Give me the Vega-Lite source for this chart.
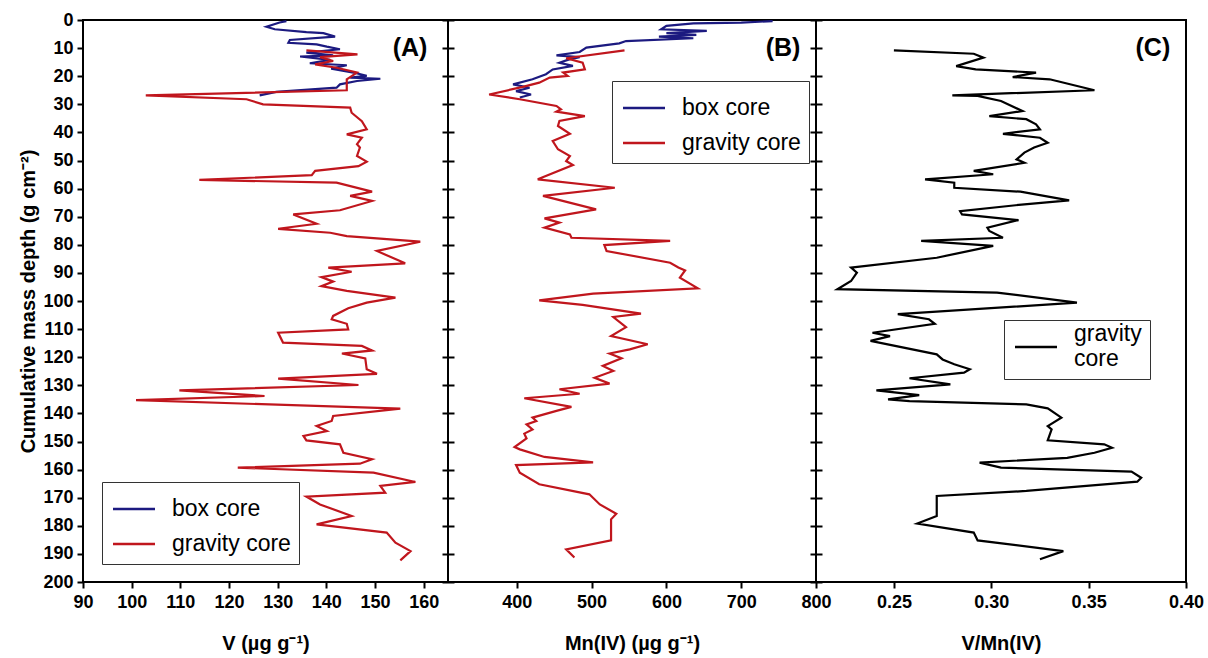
{
"$schema": "https://vega.github.io/schema/vega-lite/v6.json",
"padding": {"left": 17, "top": 10, "right": 5, "bottom": 5},
"spacing": 0,
"bounds": "flush",
"background": "white",
"config": {
 "font": "Liberation Sans",
 "view": {"stroke": "black", "strokeWidth": 2},
 "axis": {"grid": false, "domain": false, "tickColor": "black", "tickWidth": 2, "tickSize": 6, "labelColor": "black", "labelFont": "Liberation Sans", "labelFontWeight": "bold", "labelFontSize": 18, "titleFont": "Liberation Sans", "titleFontWeight": "bold", "titleFontSize": 20, "titleColor": "black", "labelFlush": false, "labelOverlap": false},
 "legend": {"labelFont": "Liberation Sans", "labelFontSize": 23, "labelColor": "black", "strokeColor": "#333333", "fillColor": "white", "padding": 8, "symbolStrokeWidth": 2.5, "symbolType": "M-1.2,0H1.2", "symbolSize": 1225, "rowPadding": 4, "labelOffset": 19, "symbolOffset": 5, "labelLimit": 300}
},
"datasets": {
 "A": [
  {"core":"box core","d":0.4,"v":131.8},{"core":"box core","d":0.9,"v":130.4},{"core":"box core","d":2.4,"v":127.7},{"core":"box core","d":3.3,"v":129.4},{"core":"box core","d":4.3,"v":135.9},{"core":"box core","d":4.7,"v":139.4},{"core":"box core","d":5.9,"v":141.8},{"core":"box core","d":7.1,"v":132.5},{"core":"box core","d":8.1,"v":132.2},{"core":"box core","d":8.7,"v":138.0},{"core":"box core","d":9.5,"v":140.1},{"core":"box core","d":10.4,"v":142.8},{"core":"box core","d":11.6,"v":135.9},{"core":"box core","d":12.6,"v":141.4},{"core":"box core","d":13.0,"v":134.6},{"core":"box core","d":14.2,"v":140.8},{"core":"box core","d":15.4,"v":136.6},{"core":"box core","d":16.1,"v":144.2},{"core":"box core","d":17.3,"v":141.0},{"core":"box core","d":18.7,"v":145.6},{"core":"box core","d":19.9,"v":148.3},{"core":"box core","d":20.5,"v":144.9},{"core":"box core","d":20.9,"v":151.1},{"core":"box core","d":21.7,"v":146.3},{"core":"box core","d":22.9,"v":142.8},{"core":"box core","d":24.1,"v":142.1},{"core":"box core","d":25.6,"v":129.7},{"core":"box core","d":26.8,"v":126.3},
  {"core":"gravity core","d":10.8,"v":135.9},{"core":"gravity core","d":12.2,"v":146.4},{"core":"gravity core","d":13.2,"v":138.7},{"core":"gravity core","d":14.6,"v":141.4},{"core":"gravity core","d":15.8,"v":137.7},{"core":"gravity core","d":17.0,"v":142.1},{"core":"gravity core","d":18.7,"v":146.3},{"core":"gravity core","d":21.1,"v":144.2},{"core":"gravity core","d":25.0,"v":144.2},{"core":"gravity core","d":26.8,"v":102.9},{"core":"gravity core","d":28.2,"v":123.6},{"core":"gravity core","d":30.0,"v":127.0},{"core":"gravity core","d":31.2,"v":144.9},{"core":"gravity core","d":33.0,"v":145.2},{"core":"gravity core","d":36.0,"v":147.3},{"core":"gravity core","d":38.9,"v":148.3},{"core":"gravity core","d":40.7,"v":144.2},{"core":"gravity core","d":41.9,"v":147.3},{"core":"gravity core","d":44.2,"v":146.3},{"core":"gravity core","d":45.4,"v":146.9},{"core":"gravity core","d":48.4,"v":146.3},{"core":"gravity core","d":50.4,"v":148.3},{"core":"gravity core","d":52.0,"v":146.6},{"core":"gravity core","d":53.7,"v":137.7},{"core":"gravity core","d":55.2,"v":137.0},{"core":"gravity core","d":56.9,"v":113.9},{"core":"gravity core","d":57.9,"v":142.1},{"core":"gravity core","d":61.1,"v":149.4},{"core":"gravity core","d":62.6,"v":144.9},{"core":"gravity core","d":64.4,"v":149.4},{"core":"gravity core","d":67.7,"v":142.8},{"core":"gravity core","d":69.2,"v":133.2},{"core":"gravity core","d":72.5,"v":138.0},{"core":"gravity core","d":74.3,"v":130.1},{"core":"gravity core","d":75.7,"v":140.8},{"core":"gravity core","d":76.9,"v":144.2},{"core":"gravity core","d":78.9,"v":159.3},{"core":"gravity core","d":82.2,"v":150.4},{"core":"gravity core","d":86.6,"v":156.2},{"core":"gravity core","d":88.1,"v":140.4},{"core":"gravity core","d":89.6,"v":145.2},{"core":"gravity core","d":91.5,"v":139.0},{"core":"gravity core","d":93.1,"v":141.4},{"core":"gravity core","d":94.7,"v":139.0},{"core":"gravity core","d":96.4,"v":144.2},{"core":"gravity core","d":98.8,"v":154.2},{"core":"gravity core","d":100.6,"v":148.3},{"core":"gravity core","d":102.6,"v":144.5},{"core":"gravity core","d":105.3,"v":141.4},{"core":"gravity core","d":106.5,"v":141.1},{"core":"gravity core","d":108.1,"v":144.2},{"core":"gravity core","d":110.1,"v":144.5},{"core":"gravity core","d":111.3,"v":130.1},{"core":"gravity core","d":114.8,"v":131.1},{"core":"gravity core","d":116.0,"v":147.3},{"core":"gravity core","d":117.6,"v":149.4},{"core":"gravity core","d":118.7,"v":143.2},{"core":"gravity core","d":120.4,"v":148.0},{"core":"gravity core","d":124.3,"v":148.3},{"core":"gravity core","d":125.9,"v":150.4},{"core":"gravity core","d":127.6,"v":130.1},{"core":"gravity core","d":129.9,"v":146.6},{"core":"gravity core","d":131.8,"v":109.8},{"core":"gravity core","d":133.8,"v":127.3},{"core":"gravity core","d":135.3,"v":100.9},{"core":"gravity core","d":138.3,"v":155.2},{"core":"gravity core","d":140.9,"v":141.4},{"core":"gravity core","d":142.7,"v":141.1},{"core":"gravity core","d":144.5,"v":138.0},{"core":"gravity core","d":146.3,"v":140.1},{"core":"gravity core","d":148.0,"v":135.3},{"core":"gravity core","d":149.6,"v":135.9},{"core":"gravity core","d":151.0,"v":142.8},{"core":"gravity core","d":154.0,"v":143.5},{"core":"gravity core","d":156.3,"v":149.4},{"core":"gravity core","d":157.9,"v":146.9},{"core":"gravity core","d":159.3,"v":121.8},{"core":"gravity core","d":161.1,"v":149.7},{"core":"gravity core","d":164.4,"v":158.3},{"core":"gravity core","d":165.8,"v":151.1},{"core":"gravity core","d":168.2,"v":152.1},{"core":"gravity core","d":169.6,"v":135.9},{"core":"gravity core","d":172.4,"v":138.7},{"core":"gravity core","d":176.5,"v":145.2},{"core":"gravity core","d":179.5,"v":138.0},{"core":"gravity core","d":182.4,"v":152.4},{"core":"gravity core","d":186.0,"v":154.2},{"core":"gravity core","d":189.0,"v":157.3},{"core":"gravity core","d":192.3,"v":155.2}
 ],
 "B": [
  {"core":"box core","d":0.4,"v":742},{"core":"box core","d":0.9,"v":700},{"core":"box core","d":1.2,"v":636},{"core":"box core","d":2.1,"v":600},{"core":"box core","d":3.3,"v":593},{"core":"box core","d":3.9,"v":654},{"core":"box core","d":4.7,"v":600},{"core":"box core","d":5.3,"v":640},{"core":"box core","d":5.9,"v":590},{"core":"box core","d":6.5,"v":636},{"core":"box core","d":7.5,"v":546},{"core":"box core","d":8.3,"v":537},{"core":"box core","d":9.8,"v":493},{"core":"box core","d":11.4,"v":484},{"core":"box core","d":12.6,"v":453},{"core":"box core","d":13.2,"v":484},{"core":"box core","d":14.0,"v":470},{"core":"box core","d":15.2,"v":457},{"core":"box core","d":16.3,"v":475},{"core":"box core","d":17.6,"v":448},{"core":"box core","d":19.3,"v":439},{"core":"box core","d":21.1,"v":421},{"core":"box core","d":22.9,"v":395},{"core":"box core","d":24.1,"v":417},{"core":"box core","d":25.3,"v":399},{"core":"box core","d":26.5,"v":419},{"core":"box core","d":27.6,"v":404},
  {"core":"gravity core","d":10.8,"v":544},{"core":"gravity core","d":13.6,"v":466},{"core":"gravity core","d":15.2,"v":488},{"core":"gravity core","d":17.6,"v":491},{"core":"gravity core","d":18.7,"v":462},{"core":"gravity core","d":19.9,"v":468},{"core":"gravity core","d":20.5,"v":444},{"core":"gravity core","d":22.3,"v":430},{"core":"gravity core","d":23.8,"v":408},{"core":"gravity core","d":26.5,"v":363},{"core":"gravity core","d":28.2,"v":404},{"core":"gravity core","d":30.6,"v":453},{"core":"gravity core","d":31.8,"v":459},{"core":"gravity core","d":32.6,"v":453},{"core":"gravity core","d":34.2,"v":491},{"core":"gravity core","d":35.9,"v":457},{"core":"gravity core","d":37.7,"v":455},{"core":"gravity core","d":40.5,"v":471},{"core":"gravity core","d":43.1,"v":448},{"core":"gravity core","d":46.0,"v":455},{"core":"gravity core","d":48.4,"v":471},{"core":"gravity core","d":50.2,"v":466},{"core":"gravity core","d":51.6,"v":475},{"core":"gravity core","d":56.7,"v":428},{"core":"gravity core","d":59.7,"v":531},{"core":"gravity core","d":62.6,"v":435},{"core":"gravity core","d":67.4,"v":506},{"core":"gravity core","d":70.6,"v":437},{"core":"gravity core","d":72.1,"v":457},{"core":"gravity core","d":73.9,"v":437},{"core":"gravity core","d":76.3,"v":471},{"core":"gravity core","d":77.5,"v":473},{"core":"gravity core","d":78.6,"v":605},{"core":"gravity core","d":80.1,"v":517},{"core":"gravity core","d":82.2,"v":520},{"core":"gravity core","d":86.4,"v":605},{"core":"gravity core","d":88.1,"v":616},{"core":"gravity core","d":89.1,"v":625},{"core":"gravity core","d":91.7,"v":618},{"core":"gravity core","d":95.5,"v":642},{"core":"gravity core","d":97.4,"v":502},{"core":"gravity core","d":99.8,"v":430},{"core":"gravity core","d":101.4,"v":488},{"core":"gravity core","d":104.5,"v":566},{"core":"gravity core","d":105.7,"v":529},{"core":"gravity core","d":109.3,"v":546},{"core":"gravity core","d":112.5,"v":526},{"core":"gravity core","d":115.4,"v":575},{"core":"gravity core","d":117.2,"v":551},{"core":"gravity core","d":118.7,"v":524},{"core":"gravity core","d":120.4,"v":540},{"core":"gravity core","d":123.1,"v":515},{"core":"gravity core","d":124.9,"v":529},{"core":"gravity core","d":127.3,"v":504},{"core":"gravity core","d":129.4,"v":524},{"core":"gravity core","d":131.4,"v":457},{"core":"gravity core","d":133.0,"v":484},{"core":"gravity core","d":134.6,"v":410},{"core":"gravity core","d":137.7,"v":473},{"core":"gravity core","d":139.1,"v":453},{"core":"gravity core","d":141.5,"v":421},{"core":"gravity core","d":142.7,"v":426},{"core":"gravity core","d":143.9,"v":413},{"core":"gravity core","d":145.7,"v":421},{"core":"gravity core","d":147.2,"v":410},{"core":"gravity core","d":148.9,"v":413},{"core":"gravity core","d":152.0,"v":397},{"core":"gravity core","d":152.8,"v":404},{"core":"gravity core","d":155.5,"v":437},{"core":"gravity core","d":157.4,"v":502},{"core":"gravity core","d":158.4,"v":399},{"core":"gravity core","d":161.1,"v":404},{"core":"gravity core","d":165.2,"v":430},{"core":"gravity core","d":168.8,"v":497},{"core":"gravity core","d":172.4,"v":511},{"core":"gravity core","d":175.7,"v":533},{"core":"gravity core","d":177.7,"v":526},{"core":"gravity core","d":185.2,"v":526},{"core":"gravity core","d":188.4,"v":466},{"core":"gravity core","d":191.3,"v":477}
 ],
 "C": [
  {"core":"gravity core","d":10.8,"v":0.250},{"core":"gravity core","d":12.0,"v":0.291},{"core":"gravity core","d":13.4,"v":0.296},{"core":"gravity core","d":16.4,"v":0.282},{"core":"gravity core","d":17.6,"v":0.292},{"core":"gravity core","d":18.7,"v":0.323},{"core":"gravity core","d":20.3,"v":0.311},{"core":"gravity core","d":21.1,"v":0.330},{"core":"gravity core","d":25.0,"v":0.353},{"core":"gravity core","d":26.8,"v":0.280},{"core":"gravity core","d":27.0,"v":0.293},{"core":"gravity core","d":28.8,"v":0.305},{"core":"gravity core","d":32.4,"v":0.316},{"core":"gravity core","d":34.2,"v":0.299},{"core":"gravity core","d":35.3,"v":0.318},{"core":"gravity core","d":37.1,"v":0.323},{"core":"gravity core","d":38.9,"v":0.325},{"core":"gravity core","d":40.5,"v":0.306},{"core":"gravity core","d":41.9,"v":0.325},{"core":"gravity core","d":43.7,"v":0.329},{"core":"gravity core","d":45.4,"v":0.322},{"core":"gravity core","d":47.2,"v":0.317},{"core":"gravity core","d":49.6,"v":0.313},{"core":"gravity core","d":50.8,"v":0.317},{"core":"gravity core","d":53.7,"v":0.291},{"core":"gravity core","d":54.9,"v":0.301},{"core":"gravity core","d":56.7,"v":0.266},{"core":"gravity core","d":57.9,"v":0.281},{"core":"gravity core","d":59.7,"v":0.281},{"core":"gravity core","d":61.1,"v":0.315},{"core":"gravity core","d":64.2,"v":0.340},{"core":"gravity core","d":65.6,"v":0.317},{"core":"gravity core","d":68.0,"v":0.284},{"core":"gravity core","d":69.2,"v":0.285},{"core":"gravity core","d":71.2,"v":0.314},{"core":"gravity core","d":73.9,"v":0.298},{"core":"gravity core","d":75.1,"v":0.299},{"core":"gravity core","d":77.5,"v":0.306},{"core":"gravity core","d":78.6,"v":0.264},{"core":"gravity core","d":80.4,"v":0.301},{"core":"gravity core","d":84.6,"v":0.272},{"core":"gravity core","d":88.1,"v":0.228},{"core":"gravity core","d":89.9,"v":0.231},{"core":"gravity core","d":92.9,"v":0.228},{"core":"gravity core","d":95.8,"v":0.221},{"core":"gravity core","d":97.0,"v":0.303},{"core":"gravity core","d":100.6,"v":0.344},{"core":"gravity core","d":104.7,"v":0.252},{"core":"gravity core","d":106.5,"v":0.268},{"core":"gravity core","d":108.1,"v":0.271},{"core":"gravity core","d":111.3,"v":0.239},{"core":"gravity core","d":112.5,"v":0.248},{"core":"gravity core","d":114.2,"v":0.238},{"core":"gravity core","d":119.0,"v":0.272},{"core":"gravity core","d":120.8,"v":0.275},{"core":"gravity core","d":122.5,"v":0.281},{"core":"gravity core","d":124.3,"v":0.289},{"core":"gravity core","d":125.5,"v":0.286},{"core":"gravity core","d":127.5,"v":0.258},{"core":"gravity core","d":129.7,"v":0.279},{"core":"gravity core","d":131.8,"v":0.241},{"core":"gravity core","d":133.5,"v":0.263},{"core":"gravity core","d":135.0,"v":0.247},{"core":"gravity core","d":135.6,"v":0.258},{"core":"gravity core","d":136.8,"v":0.318},{"core":"gravity core","d":138.2,"v":0.329},{"core":"gravity core","d":141.5,"v":0.336},{"core":"gravity core","d":144.5,"v":0.329},{"core":"gravity core","d":145.7,"v":0.331},{"core":"gravity core","d":149.6,"v":0.329},{"core":"gravity core","d":151.0,"v":0.358},{"core":"gravity core","d":152.2,"v":0.362},{"core":"gravity core","d":154.0,"v":0.353},{"core":"gravity core","d":155.8,"v":0.339},{"core":"gravity core","d":157.5,"v":0.294},{"core":"gravity core","d":159.3,"v":0.305},{"core":"gravity core","d":160.7,"v":0.372},{"core":"gravity core","d":162.9,"v":0.377},{"core":"gravity core","d":164.3,"v":0.375},{"core":"gravity core","d":167.6,"v":0.318},{"core":"gravity core","d":169.4,"v":0.272},{"core":"gravity core","d":176.5,"v":0.272},{"core":"gravity core","d":179.2,"v":0.262},{"core":"gravity core","d":182.4,"v":0.291},{"core":"gravity core","d":185.2,"v":0.293},{"core":"gravity core","d":189.0,"v":0.337},{"core":"gravity core","d":191.9,"v":0.325}
 ],
 "labA": [{"v": 157.2, "d": 10, "label": "(A)"}],
 "labB": [{"v": 756, "d": 10, "label": "(B)"}],
 "labC": [{"v": 0.383, "d": 10, "label": "(C)"}]
},
"resolve": {"scale": {"x": "independent", "y": "independent", "color": "independent"}, "legend": {"color": "independent"}},
"hconcat": [
 {
  "width": 365, "height": 562,
  "encoding": {
   "x": {"field": "v", "type": "quantitative", "scale": {"domain": [90, 165], "nice": false, "zero": false}, "axis": {"values": [90, 100, 110, 120, 130, 140, 150, 160], "title": "V (µg g⁻¹)", "labelPadding": 5, "titlePadding": 22}},
   "y": {"field": "d", "type": "quantitative", "scale": {"domain": [0, 200], "reverse": true, "nice": false}, "axis": {"values": [0,10,20,30,40,50,60,70,80,90,100,110,120,130,140,150,160,170,180,190,200], "labelOverlap": false, "title": "Cumulative mass depth (g cm⁻²)", "labelPadding": 4, "titlePadding": 4}}
  },
  "layer": [
   {
    "data": {"name": "A"},
    "mark": {"type": "line", "strokeWidth": 2.2},
    "encoding": {
     "color": {"field": "core", "type": "nominal", "scale": {"domain": ["box core", "gravity core"], "range": ["#1c1a80", "#c0161d"]}, "legend": {"title": null, "orient": "none", "legendX": 19, "legendY": 462}},
     "order": {"field": "d", "type": "quantitative"}
    }
   },
   {
    "data": {"name": "labA"},
    "mark": {"type": "text", "fontSize": 25, "fontWeight": "bold", "font": "Liberation Sans", "color": "black"},
    "encoding": {"text": {"field": "label"}}
   }
  ]
 },
 {
  "width": 368, "height": 562,
  "encoding": {
   "x": {"field": "v", "type": "quantitative", "scale": {"domain": [308, 800], "nice": false, "zero": false}, "axis": {"values": [400, 500, 600, 700, 800], "title": "Mn(IV) (µg g⁻¹)", "labelPadding": 5, "titlePadding": 22}},
   "y": {"field": "d", "type": "quantitative", "scale": {"domain": [0, 200], "reverse": true, "nice": false}, "axis": {"values": [0,10,20,30,40,50,60,70,80,90,100,110,120,130,140,150,160,170,180,190,200], "labels": false, "title": null, "tickSize": 12, "offset": -6}}
  },
  "layer": [
   {
    "data": {"name": "B"},
    "mark": {"type": "line", "strokeWidth": 2.2},
    "encoding": {
     "color": {"field": "core", "type": "nominal", "scale": {"domain": ["box core", "gravity core"], "range": ["#1c1a80", "#c0161d"]}, "legend": {"title": null, "orient": "none", "legendX": 164, "legendY": 61}},
     "order": {"field": "d", "type": "quantitative"}
    }
   },
   {
    "data": {"name": "labB"},
    "mark": {"type": "text", "fontSize": 25, "fontWeight": "bold", "font": "Liberation Sans", "color": "black"},
    "encoding": {"text": {"field": "label"}}
   }
  ]
 },
 {
  "width": 370, "height": 562,
  "encoding": {
   "x": {"field": "v", "type": "quantitative", "scale": {"domain": [0.21, 0.40], "nice": false, "zero": false}, "axis": {"values": [0.25, 0.30, 0.35, 0.40], "format": ".2f", "title": "V/Mn(IV)", "labelPadding": 5, "titlePadding": 22}},
   "y": {"field": "d", "type": "quantitative", "scale": {"domain": [0, 200], "reverse": true, "nice": false}, "axis": {"values": [0,10,20,30,40,50,60,70,80,90,100,110,120,130,140,150,160,170,180,190,200], "labels": false, "title": null, "tickSize": 12, "offset": -6}}
  },
  "layer": [
   {
    "data": {"name": "C"},
    "mark": {"type": "line", "strokeWidth": 2.2},
    "encoding": {
     "color": {"field": "core", "type": "nominal", "scale": {"domain": ["gravity core"], "range": ["black"]}, "legend": {"title": null, "orient": "none", "legendX": 188, "legendY": 300, "labelBaseline": "line-bottom", "labelExpr": "split(datum.label, ' ')"}},
     "order": {"field": "d", "type": "quantitative"}
    }
   },
   {
    "data": {"name": "labC"},
    "mark": {"type": "text", "fontSize": 25, "fontWeight": "bold", "font": "Liberation Sans", "color": "black"},
    "encoding": {"text": {"field": "label"}}
   }
  ]
 }
]
}
